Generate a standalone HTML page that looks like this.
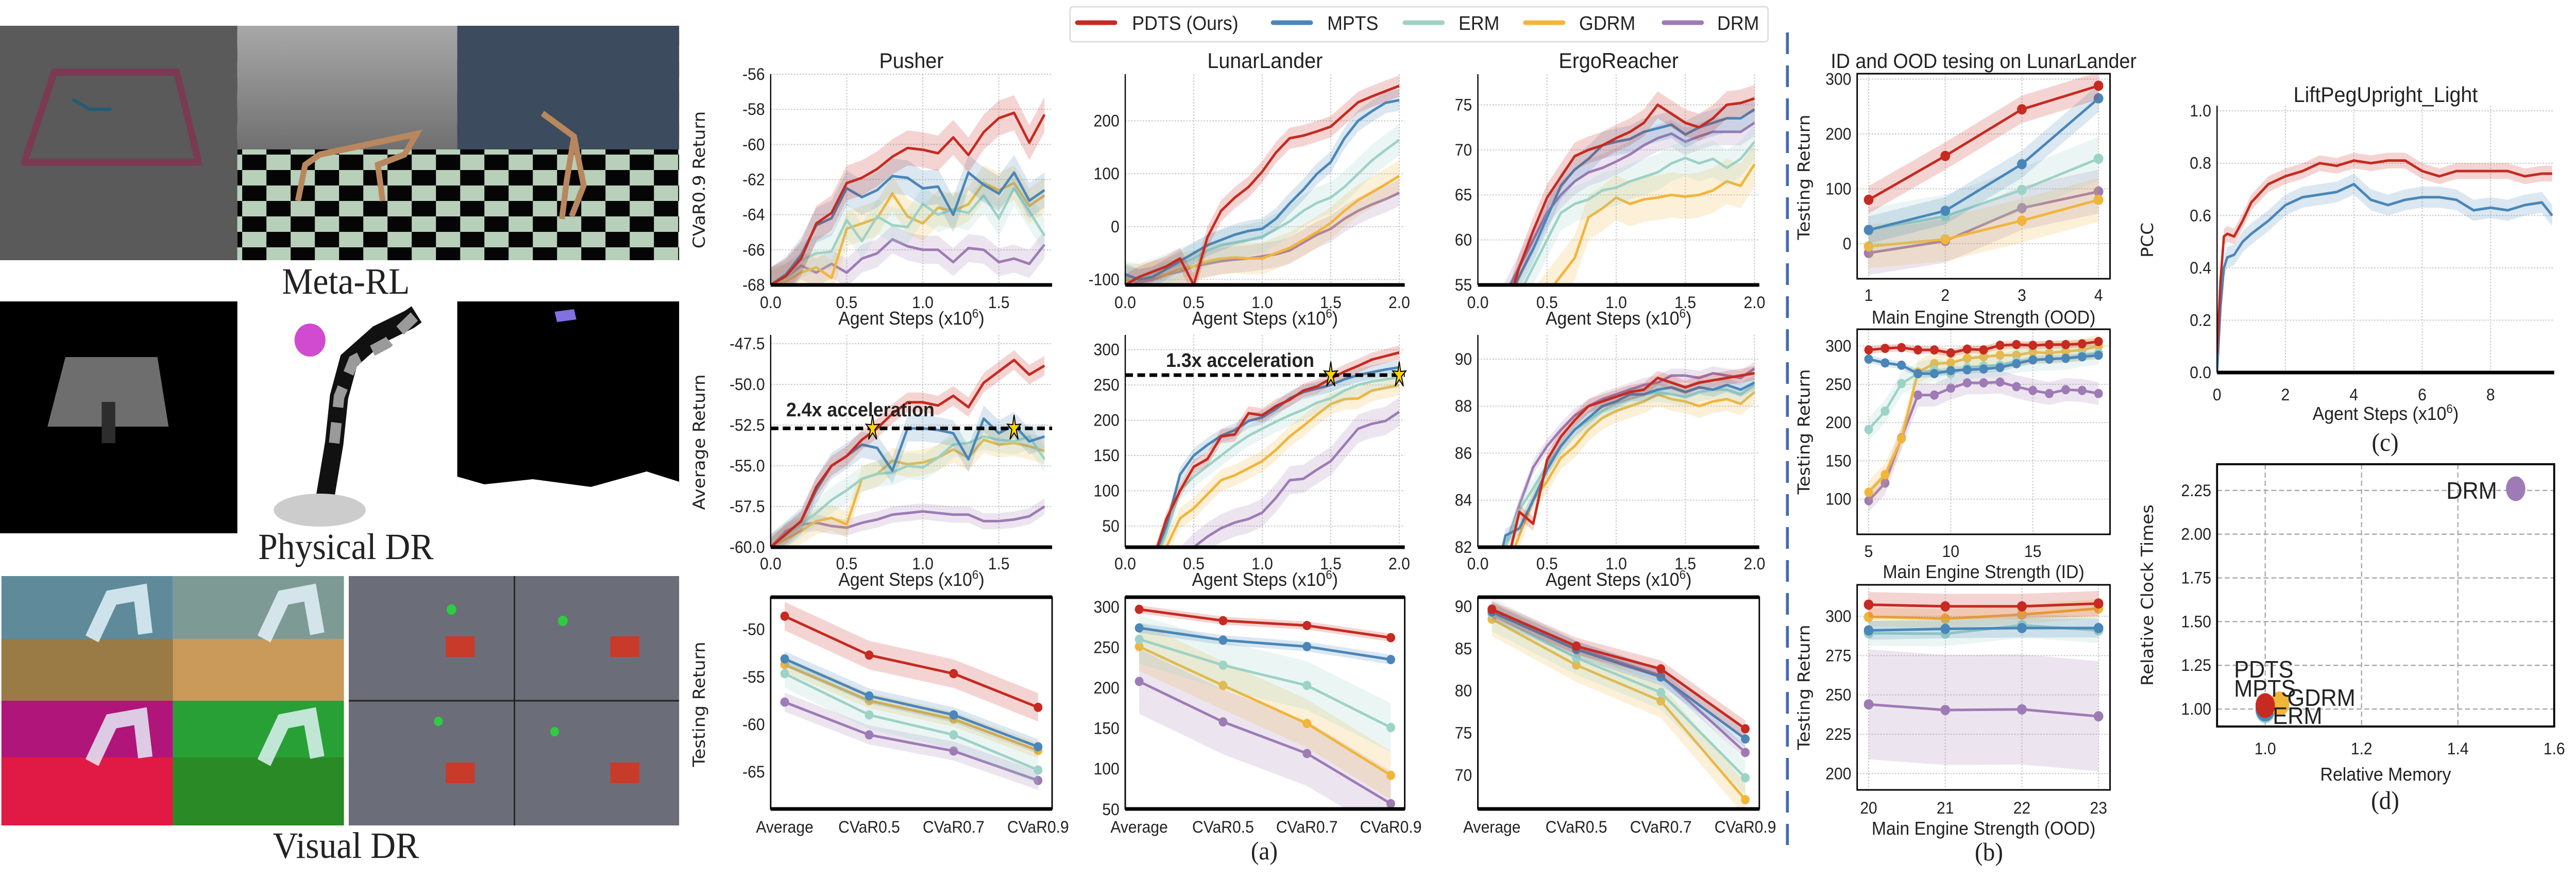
<!DOCTYPE html>
<html><head><meta charset="utf-8">
<meta name="viewport" content="width=5318">
<style>
html,body{margin:0;padding:0;background:#fff;width:100%;height:100%;overflow:hidden;}
svg{display:block;overflow:hidden;position:absolute;left:0;top:0;width:100vw;height:100vh;}
text{font-family:"Liberation Sans","DejaVu Sans",sans-serif;fill:#222;}
.tick{font-size:32px;}
.ttl{font-size:42px;}
.ylab{font-family:"DejaVu Sans","Liberation Sans",sans-serif;font-size:34px;}
.cap{font-family:"Liberation Serif",serif;font-size:50px;}
.big{font-family:"Liberation Serif",serif;font-size:72px;}
</style></head>
<body>
<svg id="fig" viewBox="0 0 5318 1737" preserveAspectRatio="none" xmlns="http://www.w3.org/2000/svg">
<defs>
<pattern id="chk" width="100" height="60" patternUnits="userSpaceOnUse">
<rect width="100" height="60" fill="#b8cfb9"/><rect width="50" height="30" fill="#050505"/><rect x="50" y="30" width="50" height="30" fill="#050505"/>
</pattern>
<linearGradient id="sky" x1="0" y1="0" x2="0" y2="1"><stop offset="0" stop-color="#a8a8a8"/><stop offset="1" stop-color="#707070"/></linearGradient>
</defs>
<g>
<rect x="0" y="50" width="490" height="455" fill="#5a5a5a"/>
<path d="M112 140 L365 140 L410 315 L50 315 Z" fill="none" stroke="#7a3a52" stroke-width="14" stroke-linejoin="round"/>
<path d="M150 193 L185 212 L230 212" fill="none" stroke="#1f5d78" stroke-width="6"/>
<rect x="490" y="50" width="454" height="455" fill="url(#chk)"/>
<rect x="490" y="50" width="454" height="240" fill="url(#sky)"/>
<path d="M615 390 L630 320 L660 300 L760 280 L860 260 L835 300 L780 320 L790 390" fill="none" stroke="#b8875e" stroke-width="12"/>
<rect x="944" y="50" width="458" height="455" fill="url(#chk)"/>
<rect x="944" y="50" width="458" height="240" fill="#3d4b5e"/>
<path d="M1120 220 L1185 265 L1205 360 L1180 420 M1185 265 L1170 350 L1160 425" fill="none" stroke="#b8875e" stroke-width="12"/>
<text class="big" x="714" y="570" text-anchor="middle">Meta-RL</text>
<rect x="0" y="585" width="490" height="450" fill="#000"/>
<path d="M135 693 L325 693 L348 828 L98 828 Z" fill="#6e6e6e"/>
<rect x="210" y="780" width="28" height="80" fill="#2d2d2d"/>
<rect x="502" y="590" width="405" height="440" fill="#fff"/>
<circle cx="640" cy="660" r="32" fill="#d14bd0"/>
<path d="M665 1000 L690 860 L700 770 L720 700 L780 650 L845 620 L860 610" fill="none" stroke="#111" stroke-width="38"/>
<path d="M690 860 L700 770 L730 700 L800 665 L860 610" fill="none" stroke="#9a9a9a" stroke-width="22" stroke-dasharray="40,30"/>
<ellipse cx="660" cy="990" rx="95" ry="32" fill="#ccc"/>
<rect x="944" y="585" width="458" height="360" fill="#000"/>
<path d="M944 925 L1000 940 L1100 930 L1220 945 L1335 915 L1402 935 L1402 950 L944 950 Z" fill="#fff"/>
<path d="M1145 605 L1185 600 L1190 620 L1150 625 Z" fill="#8070e0"/>
<text class="big" x="714" y="1085" text-anchor="middle">Physical DR</text>
<g>
<rect x="3" y="1118" width="354" height="242" fill="#5f8a9a"/><rect x="3" y="1240" width="354" height="120" fill="#9a7a45"/>
<rect x="357" y="1118" width="353" height="242" fill="#7d9a95"/><rect x="357" y="1240" width="353" height="120" fill="#c99a5a"/>
<rect x="3" y="1360" width="354" height="242" fill="#b0157a"/><rect x="3" y="1470" width="354" height="132" fill="#e01a45"/>
<rect x="357" y="1360" width="353" height="242" fill="#28a035"/><rect x="357" y="1470" width="353" height="132" fill="#2a8a25"/>
<path d="M190 1240 L230 1160 L290 1150 L300 1230 M545 1240 L585 1160 L640 1150 L655 1230 M190 1480 L230 1400 L290 1390 L300 1470 M545 1480 L585 1400 L640 1390 L655 1470" fill="none" stroke="#e8f8ff" stroke-width="30" opacity="0.8"/>
</g>
<g>
<rect x="720" y="1118" width="682" height="484" fill="#6b6e78"/>
<path d="M1062 1118 V1602 M720 1360 H1402" stroke="#222" stroke-width="3"/>
<rect x="920" y="1235" width="60" height="40" fill="#c83a2a"/><rect x="1260" y="1235" width="60" height="40" fill="#c83a2a"/>
<rect x="920" y="1480" width="60" height="40" fill="#c83a2a"/><rect x="1260" y="1480" width="60" height="40" fill="#c83a2a"/>
<circle cx="932" cy="1183" r="10" fill="#2ecc40"/><circle cx="1162" cy="1205" r="10" fill="#2ecc40"/><circle cx="905" cy="1400" r="9" fill="#2ecc40"/><circle cx="1145" cy="1420" r="9" fill="#2ecc40"/>
</g>
<text class="big" x="714" y="1665" text-anchor="middle">Visual DR</text>
</g>

<g>
<rect x="2209" y="13" width="1441" height="68" rx="6" fill="#fff" stroke="#ddd" stroke-width="3"/>
<g><line x1="2224" y1="44" x2="2302" y2="44" stroke="#c62a20" stroke-width="9" stroke-linecap="round"/><text x="2337" y="58" font-size="38">PDTS (Ours)</text></g>
<g><line x1="2628" y1="44" x2="2706" y2="44" stroke="#4a86b8" stroke-width="9" stroke-linecap="round"/><text x="2740" y="58" font-size="38">MPTS</text></g>
<g><line x1="2900" y1="44" x2="2978" y2="44" stroke="#9dd2c6" stroke-width="9" stroke-linecap="round"/><text x="3011" y="58" font-size="38">ERM</text></g>
<g><line x1="3149" y1="44" x2="3227" y2="44" stroke="#f1b53a" stroke-width="9" stroke-linecap="round"/><text x="3260" y="58" font-size="38">GDRM</text></g>
<g><line x1="3435" y1="44" x2="3513" y2="44" stroke="#9e7bb5" stroke-width="9" stroke-linecap="round"/><text x="3545" y="58" font-size="38">DRM</text></g>
</g>
<line x1="3690" y1="63" x2="3690" y2="1640" stroke="#4169b4" stroke-width="6" stroke-dasharray="42,22"/>
<g id="plots"></g>
</svg>
<script>
// ---------- data ----------
const methods = ['PDTS','MPTS','ERM','GDRM','DRM'];
const colors = ['#c62a20','#4a86b8','#9dd2c6','#f1b53a','#9e7bb5'];
const stepsPusher = [0,0.1,0.2,0.3,0.4,0.5,0.6,0.7,0.8,0.9,1.0,1.1,1.2,1.3,1.4,1.5,1.6,1.7,1.8];
const stepsTwo = [0,0.1,0.2,0.3,0.4,0.5,0.6,0.7,0.8,0.9,1.0,1.1,1.2,1.3,1.4,1.5,1.6,1.7,1.8,1.9,2.0];

const pusherCvarPDTS = [-68,-67.5,-66.5,-64.5,-63.9,-62.2,-61.9,-61.4,-60.7,-60.2,-60.3,-60.5,-59.6,-60.6,-59.3,-58.5,-58.2,-59.9,-58.3];
const pusherCvarMPTS = [-68,-67.4,-66.3,-64.6,-64.2,-62.5,-63.0,-62.6,-61.8,-61.9,-62.5,-62.4,-64,-61.6,-62.3,-62.8,-61.6,-63.2,-62.6];
const pusherCvarERM  = [-68,-67.6,-66.6,-66.2,-66.1,-64.3,-65.5,-64.1,-64.6,-64.7,-63.4,-64.0,-63.7,-63.9,-62.9,-64.2,-62.5,-63.8,-65.2];
const pusherCvarGDRM = [-68,-67.8,-67.3,-67.0,-67.6,-64.8,-64.5,-64.2,-62.8,-64.1,-64.5,-63.6,-63.8,-63.4,-62.2,-62.6,-62.2,-63.5,-62.9];
const pusherCvarDRM  = [-68,-67.6,-66.9,-67.3,-66.8,-67.3,-66.5,-66.2,-65.4,-65.8,-66.0,-66.0,-66.7,-65.9,-66.0,-66.7,-66.5,-66.8,-65.7];

const lunarCvarPDTS = [-110,-95,-85,-75,-60,-110,-20,30,55,75,104,140,167,172,180,189,212,235,246,256,266];
const lunarCvarMPTS = [-90,-100,-95,-80,-65,-50,-35,-25,-15,-8,-4,15,44,70,100,122,167,200,218,234,239];
const lunarCvarERM  = [-95,-100,-90,-80,-70,-60,-45,-35,-30,-25,-19,-5,10,30,45,55,75,100,125,145,164];
const lunarCvarGDRM = [-100,-100,-95,-90,-80,-75,-65,-60,-58,-60,-60,-50,-40,-25,-10,7,30,50,65,80,96];
const lunarCvarDRM  = [-100,-105,-100,-90,-85,-75,-70,-65,-62,-60,-56,-52,-45,-30,-15,-4,15,30,42,52,64];

const ergoCvarPDTS = [50,50,52,57,61,64.7,67,69.3,70,70.5,71.3,72,73,75,74,73,72.5,73.5,75,75.2,75.7];
const ergoCvarMPTS = [50,50,53,56,59,62.5,66,67.8,69,70.5,70.9,71.2,72,72.4,72.8,71.7,72.5,73,73.5,73.5,74.5];
const ergoCvarERM  = [50,50,52,54,57,60,63,64,64.5,65.5,65.8,66.5,67,67.5,68.5,69.1,68.5,69,68,69,70.9];
const ergoCvarGDRM = [50,50,50,50,52,54,56,58,62.5,63.5,64.7,64,64.5,64.7,65,64.8,65,65.5,66.5,66,68.4];
const ergoCvarDRM  = [50,50,54,57,60,63,65,66.5,67.5,68,68.7,69.5,70.5,71.3,71.8,70.9,71.5,72,72,72,73];

const pusherAvgPDTS = [-60,-59.2,-58.4,-56.3,-55,-54.4,-53.4,-52.7,-51.8,-51.1,-51.1,-51.3,-50.7,-51.4,-49.9,-49.2,-48.5,-49.4,-48.85];
const pusherAvgMPTS = [-60,-59.2,-58.4,-56.5,-55,-54.4,-53.7,-53.9,-55.3,-52.7,-52.7,-52.8,-53,-54.6,-52.1,-53,-52.5,-53.5,-53.2];
const pusherAvgERM  = [-60,-59.3,-58.6,-57.9,-57.1,-56.5,-55.8,-55.5,-55.4,-55,-55.1,-54.5,-53.7,-53.6,-53.2,-53.4,-53.5,-53.2,-54.6];
const pusherAvgGDRM = [-60,-59.5,-59,-58.4,-58.2,-58.6,-55.8,-55.5,-54.7,-54.9,-54.8,-54.5,-54,-54.5,-53.4,-53.7,-53.6,-53.8,-54.1];
const pusherAvgDRM  = [-60,-59,-58.6,-58.5,-58.7,-58.8,-58.5,-58.3,-58,-57.9,-57.8,-57.9,-58,-58,-58.4,-58.4,-58.3,-58.1,-57.5];

const lunarAvgPDTS = [-50,-40,0,60,100,134,145,177,180,210,207,220,229,242,248,259,269,277,286,291,296];
const lunarAvgMPTS = [-50,-40,0,50,123,150,165,178,186,199,204,216,231,240,245,250,258,264,268,272,275];
const lunarAvgERM  = [-50,-40,-10,40,101,120,135,150,165,178,188,198,207,215,225,231,242,250,255,258,261];
const lunarAvgGDRM = [-50,-40,-20,20,61,75,95,115,122,132,142,158,177,192,208,223,230,231,242,246,250];
const lunarAvgDRM  = [-50,-40,-20,-10,0,20,35,47,55,60,69,90,115,117,130,142,165,188,195,199,212];

const ergoAvgPDTS = [80,80,81,83.5,83,85.7,86.7,87.4,88,88.2,88.4,88.6,88.7,89.2,89,88.8,89,89.1,89.2,89.3,89.4];
const ergoAvgMPTS = [80,80,82.5,82.8,84,85.3,86.3,87,87.5,88,88.2,88.5,88.5,88.7,88.8,88.6,88.8,88.7,88.9,88.7,89];
const ergoAvgERM  = [80,80,82,83.6,84.5,85.5,86.3,87,87.4,87.8,88.1,88.3,88.5,88.6,88.5,88.4,88.6,88.7,88.7,88.5,88.9];
const ergoAvgGDRM = [80,80,81,82.5,84,84.8,85.8,86.3,87,87.5,87.8,88,88.2,88.5,88.3,88.2,88,88.2,88.3,88.1,88.6];
const ergoAvgDRM  = [80,80,82,83.8,85.4,86.3,87,87.6,88,88.3,88.5,88.7,88.9,89,89.3,89.3,89.2,89.4,89.3,89.2,89.6];

const riskCategories = ['Average','CVaR0.5','CVaR0.7','CVaR0.9'];
const pusherTestPDTS = [-48.6,-52.7,-54.65,-58.2];
const pusherTestMPTS = [-53.1,-57,-59,-62.35];
const pusherTestERM  = [-54.65,-59,-61.1,-64.8];
const pusherTestGDRM = [-53.7,-57.5,-59.45,-62.75];
const pusherTestDRM  = [-57.65,-61.1,-62.8,-65.9];
const lunarTestPDTS = [297,283,277,262];
const lunarTestMPTS = [274,259,251,235];
const lunarTestERM  = [260,228,203,151];
const lunarTestGDRM = [251,203,156,92];
const lunarTestDRM  = [208,158,119,57];
const ergoTestPDTS = [89.65,85.3,82.6,75.5];
const ergoTestMPTS = [89.35,84.9,81.65,74.3];
const ergoTestERM  = [89.1,83.9,79.8,69.7];
const ergoTestGDRM = [88.5,83.05,78.8,67.1];
const ergoTestDRM  = [89.7,85.1,81.8,72.7];

const oodSmallX = [1,2,3,4];
const oodSmallPDTS = [80,160,245,288];
const oodSmallMPTS = [25,60,145,265];
const oodSmallERM  = [25,50,98,155];
const oodSmallGDRM = [-5,8,42,80];
const oodSmallDRM  = [-17,5,65,95];

const idX = [5,6,7,8,9,10,11,12,13,14,15,16,17,18,19];
const idPDTS = [295,297,298,295,295,291,296,295,301,302,301,302,302,303,306];
const idMPTS = [283,278,275,264,264,268,269,270,272,277,282,283,284,286,288];
const idERM  = [191,215,251,264,269,264,272,274,275,280,282,283,284,288,291];
const idGDRM = [109,132,179,266,277,278,284,286,288,288,292,291,293,295,300];
const idDRM  = [98,121,180,236,236,245,252,252,253,247,242,238,243,242,238];

const oodLargeX = [20,21,22,23];
const oodLargePDTS = [307.4,306.3,306.3,308.1];
const oodLargeMPTS = [291,292,292.5,292.5];
const oodLargeERM  = [289.2,288.9,294.3,291];
const oodLargeGDRM = [299.6,298.4,301.1,305];
const oodLargeDRM  = [244,240.4,240.8,236.4];

const liftSteps = [0,0.1,0.2,0.3,0.5,0.75,1,1.5,2,2.5,3,3.5,4,4.5,5,5.5,6,6.5,7,7.5,8,8.5,9,9.5,9.8];
const liftPDTS = [0.07,0.35,0.52,0.53,0.52,0.58,0.65,0.72,0.75,0.77,0.8,0.79,0.81,0.80,0.81,0.81,0.77,0.75,0.77,0.77,0.77,0.77,0.75,0.76,0.76];
const liftMPTS = [0,0.25,0.4,0.44,0.45,0.5,0.53,0.58,0.64,0.67,0.68,0.69,0.72,0.66,0.64,0.66,0.67,0.67,0.66,0.62,0.63,0.62,0.64,0.65,0.6];

const costMemory = [1.0,1.0,1.0,1.03,1.52];
const costClock = [1.02,1.0,0.99,1.03,2.26];

// ---------- helpers ----------
const NS = 'http://www.w3.org/2000/svg';
const root = document.getElementById('plots');
function mk(tag, attrs, parent){ const e=document.createElementNS(NS,tag); for(const k in attrs) e.setAttribute(k,attrs[k]); (parent||root).appendChild(e); return e; }
let clipId=0;
function axes(c){
  const g = mk('g',{});
  
  
  const sx = v => c.x0 + (v-c.xmin)/(c.xmax-c.xmin)*(c.x1-c.x0);
  const sy = v => c.y1 - (v-c.ymin)/(c.ymax-c.ymin)*(c.y1-c.y0);
  const grid = c.gridStyle || {stroke:'#c8c8c8','stroke-width':2,'stroke-dasharray':'3,3'};
  (c.xticks||[]).forEach((t,i)=>{
    const gl = mk('line',Object.assign({x1:sx(t),x2:sx(t),y1:c.y0,y2:c.y1},grid),g);
    
    
    const tx = mk('text',{x:sx(t),y:c.xtickY,'text-anchor':'middle','class':'tick'},g);
    tx.textContent = c.xlabels ? c.xlabels[i] : String(t);
    
    
  });
  (c.yticks||[]).forEach((t,i)=>{
    const gl = mk('line',Object.assign({x1:c.x0,x2:c.x1,y1:sy(t),y2:sy(t)},grid),g);
    
    
    const tx = mk('text',{x:c.x0-12,y:sy(t)+11,'text-anchor':'end','class':'tick'},g);
    tx.textContent = c.ylabels ? c.ylabels[i] : String(t);
    
    
  });
  clipId++;
  const cp = mk('clipPath',{id:'cp'+clipId},g);
  mk('rect',{x:c.x0,y:c.y0,width:c.x1-c.x0,height:c.y1-c.y0},cp);
  const plot = mk('g',{'clip-path':'url(#cp'+clipId+')'},g);
  if(c.box){
    const fr = mk('rect',{x:c.x0,y:c.y0,width:c.x1-c.x0,height:c.y1-c.y0,fill:'none',stroke:'#000','stroke-width':c.boxW||3},g);
    
    
  }
  if(c.thickTB){
    mk('line',{x1:c.x0,x2:c.x1,y1:c.y0,y2:c.y0,stroke:'#000','stroke-width':7},g);
  }
  if(!c.box || c.thickTB){
    const ls = mk('line',{x1:c.x0,x2:c.x0,y1:c.y0,y2:c.y1,stroke:'#000','stroke-width':2.5},g);
    
    
    const bs = mk('line',{x1:c.x0,x2:c.x1,y1:c.y1,y2:c.y1,stroke:'#000','stroke-width':7},g);
    
    
  }
  if(c.title){
    const t = mk('text',{x:(c.x0+c.x1)/2,y:c.titleY,'text-anchor':'middle','class':'ttl'},g);
    t.textContent = c.title;
    
    
  }
  if(c.xlabel){
    const t = mk('text',{x:(c.x0+c.x1)/2,y:c.xlabelY,'text-anchor':'middle','font-size':36},g);
    t.innerHTML = c.xlabel;
    
    
  }
  if(c.ylabel){
    const t = mk('text',{x:c.ylabelX,y:c.ylabelYc,'text-anchor':'middle','class':'ylab',transform:'rotate(-90 '+c.ylabelX+' '+c.ylabelYc+')'},g);
    t.textContent = c.ylabel;
    
    
  }
  return {sx,sy,plot,g};
}
function series(ax, xs, ys, color, band, name, markers){
  let up='', dn='', ln='';
  xs.forEach((x,i)=>{ const px=ax.sx(x); up += (i?'L':'M')+px.toFixed(1)+' '+ax.sy(ys[i]+band).toFixed(1)+' '; ln += (i?'L':'M')+px.toFixed(1)+' '+ax.sy(ys[i]).toFixed(1)+' '; });
  for(let i=xs.length-1;i>=0;i--){ dn += 'L'+ax.sx(xs[i]).toFixed(1)+' '+ax.sy(ys[i]-band).toFixed(1)+' '; }
  const b = mk('path',{d:up+dn+'Z',fill:color,opacity:0.2,stroke:'none'},ax.plot);
  
  
  const l = mk('path',{d:ln,fill:'none',stroke:color,'stroke-width':5,'stroke-linejoin':'round'},ax.plot);
  
  
  if(markers){
    xs.forEach((x,i)=>{
      const m = mk('circle',{cx:ax.sx(x),cy:ax.sy(ys[i]),r:markers,fill:color},ax.plot);
      
      
    });
  }
}
function drawAll(ax, xs, data, bands, prefix, markers){
  for(let k=4;k>=0;k--){ series(ax, xs, data[k], colors[k], bands[k], prefix+'-'+methods[k].toLowerCase(), markers); }
}
function star(parent, cx, cy){
  let d='';
  for(let i=0;i<10;i++){ const r = i%2 ? 8 : 24; const ang = -Math.PI/2 + i*Math.PI/5; d += (i?'L':'M')+(cx+r*Math.cos(ang)*0.6).toFixed(1)+' '+(cy+r*Math.sin(ang)*1.1).toFixed(1)+' '; }
  const s = mk('path',{d:d+'Z',fill:'#ffd500',stroke:'#000','stroke-width':2},parent);
  
  
}
const stepLbl = 'Agent Steps (x10<tspan baseline-shift="super" font-size="24">6</tspan>)';

// Row 1
let a = axes({name:'pusher-cvar-chart',x0:1591,x1:2172,y0:144,y1:553,xmin:0,xmax:1.85,ymin:-68,ymax:-56,xticks:[0,0.5,1,1.5],xlabels:['0.0','0.5','1.0','1.5'],yticks:[-68,-66,-64,-62,-60,-58,-56],xtickY:598,title:'Pusher',titleY:132,xlabel:stepLbl,xlabelY:630,ylabel:'CVaR0.9 Return',ylabelX:1455,ylabelYc:349});
drawAll(a, stepsPusher, [pusherCvarPDTS,pusherCvarMPTS,pusherCvarERM,pusherCvarGDRM,pusherCvarDRM],[1,1,1,1,0.8],'pusher-cvar');
a = axes({name:'lunar-cvar-chart',x0:2323,x1:2900,y0:144,y1:553,xmin:0,xmax:2.04,ymin:-110,ymax:288,xticks:[0,0.5,1,1.5,2],xlabels:['0.0','0.5','1.0','1.5','2.0'],yticks:[-100,0,100,200],xtickY:598,title:'LunarLander',titleY:132,xlabel:stepLbl,xlabelY:630});
drawAll(a, stepsTwo, [lunarCvarPDTS,lunarCvarMPTS,lunarCvarERM,lunarCvarGDRM,lunarCvarDRM],[20,20,30,30,25],'lunar-cvar');
a = axes({name:'ergo-cvar-chart',x0:3051,x1:3632,y0:144,y1:553,xmin:0,xmax:2.035,ymin:55,ymax:78.4,xticks:[0,0.5,1,1.5,2],xlabels:['0.0','0.5','1.0','1.5','2.0'],yticks:[55,60,65,70,75],xtickY:598,title:'ErgoReacher',titleY:132,xlabel:stepLbl,xlabelY:630});
drawAll(a, stepsTwo, [ergoCvarPDTS,ergoCvarMPTS,ergoCvarERM,ergoCvarGDRM,ergoCvarDRM],[1.5,1.5,2,2.5,1.5],'ergo-cvar');

// Row 2
a = axes({name:'pusher-average-chart',x0:1591,x1:2172,y0:650,y1:1062,xmin:0,xmax:1.85,ymin:-60,ymax:-46.96,xticks:[0,0.5,1,1.5],xlabels:['0.0','0.5','1.0','1.5'],yticks:[-60,-57.5,-55,-52.5,-50,-47.5],ylabels:['-60.0','-57.5','-55.0','-52.5','-50.0','-47.5'],xtickY:1105,xlabel:stepLbl,xlabelY:1137,ylabel:'Average Return',ylabelX:1455,ylabelYc:858});
drawAll(a, stepsPusher, [pusherAvgPDTS,pusherAvgMPTS,pusherAvgERM,pusherAvgGDRM,pusherAvgDRM],[0.6,0.8,0.8,0.8,0.5],'pusher-average');
const pTarget = a.sy(-52.7);
mk('line',{x1:1591,x2:2172,y1:pTarget,y2:pTarget,stroke:'#000','stroke-width':7,'stroke-dasharray':'16,9'},a.g);
const annot1 = mk('text',{x:1623,y:808,'font-size':38,'font-weight':'bold'},a.g);
annot1.textContent='2.4x acceleration';


[0.67,1.6].forEach(x=>star(a.g, a.sx(x), pTarget));

a = axes({name:'lunar-average-chart',x0:2323,x1:2900,y0:650,y1:1062,xmin:0,xmax:2.04,ymin:20,ymax:321,xticks:[0,0.5,1,1.5,2],xlabels:['0.0','0.5','1.0','1.5','2.0'],yticks:[50,100,150,200,250,300],xtickY:1105,xlabel:stepLbl,xlabelY:1137});
drawAll(a, stepsTwo, [lunarAvgPDTS,lunarAvgMPTS,lunarAvgERM,lunarAvgGDRM,lunarAvgDRM],[10,10,15,15,20],'lunar-average');
const lTarget = a.sy(264);
mk('line',{x1:2323,x2:2900,y1:lTarget,y2:lTarget,stroke:'#000','stroke-width':7,'stroke-dasharray':'16,9'},a.g);
const annot2 = mk('text',{x:2407,y:712,'font-size':38,'font-weight':'bold'},a.g);
annot2.textContent='1.3x acceleration';


[1.5,2.0].forEach(x=>star(a.g, a.sx(x), lTarget));

a = axes({name:'ergo-average-chart',x0:3051,x1:3632,y0:650,y1:1062,xmin:0,xmax:2.035,ymin:82,ymax:91.03,xticks:[0,0.5,1,1.5,2],xlabels:['0.0','0.5','1.0','1.5','2.0'],yticks:[82,84,86,88,90],xtickY:1105,xlabel:stepLbl,xlabelY:1137});
drawAll(a, stepsTwo, [ergoAvgPDTS,ergoAvgMPTS,ergoAvgERM,ergoAvgGDRM,ergoAvgDRM],[0.3,0.3,0.4,0.5,0.3],'ergo-average');

// Row 3
const catIdx = [0,1,2,3];
a = axes({name:'pusher-testing-chart',x0:1591,x1:2172,y0:1159,y1:1570,xmin:-0.166,xmax:3.166,ymin:-68.9,ymax:-46.6,xticks:catIdx,xlabels:riskCategories,yticks:[-65,-60,-55,-50],xtickY:1616,box:true,thickTB:true,ylabel:'Testing Return',ylabelX:1455,ylabelYc:1367,gridStyle:{stroke:'none'}});
drawAll(a, catIdx, [pusherTestPDTS,pusherTestMPTS,pusherTestERM,pusherTestGDRM,pusherTestDRM],[1.5,0.8,1.5,0.8,1],'pusher-testing',9);
a = axes({name:'lunar-testing-chart',x0:2323,x1:2900,y0:1159,y1:1570,xmin:-0.166,xmax:3.166,ymin:50.5,ymax:312,xticks:catIdx,xlabels:riskCategories,yticks:[50,100,150,200,250,300],xtickY:1616,box:true,thickTB:true,gridStyle:{stroke:'none'}});
drawAll(a, catIdx, [lunarTestPDTS,lunarTestMPTS,lunarTestERM,lunarTestGDRM,lunarTestDRM],[5,6,30,30,40],'lunar-testing',9);
a = axes({name:'ergo-testing-chart',x0:3051,x1:3632,y0:1159,y1:1570,xmin:-0.166,xmax:3.166,ymin:66,ymax:91.1,xticks:catIdx,xlabels:riskCategories,yticks:[70,75,80,85,90],xtickY:1616,box:true,thickTB:true,gridStyle:{stroke:'none'}});
drawAll(a, catIdx, [ergoTestPDTS,ergoTestMPTS,ergoTestERM,ergoTestGDRM,ergoTestDRM],[1,1,2,2,0.8],'ergo-testing',9);

// (b)
const bTitle = mk('text',{x:4095,y:132,'text-anchor':'middle','font-size':40});
bTitle.textContent='ID and OOD tesing on LunarLander';


a = axes({name:'ood-small-chart',x0:3834,x1:4356,y0:143,y1:541,xmin:0.85,xmax:4.15,ymin:-64,ymax:310,xticks:oodSmallX,yticks:[0,100,200,300],xtickY:584,box:true,xlabel:'Main Engine Strength (OOD)',xlabelY:628,ylabel:'Testing Return',ylabelX:3736,ylabelYc:344});
drawAll(a, oodSmallX, [oodSmallPDTS,oodSmallMPTS,oodSmallERM,oodSmallGDRM,oodSmallDRM],[25,25,40,40,40],'ood-small',10);
a = axes({name:'id-chart',x0:3834,x1:4356,y0:639,y1:1037,xmin:4.3,xmax:19.7,ymin:54,ymax:322,xticks:[5,10,15],yticks:[100,150,200,250,300],xtickY:1081,box:true,xlabel:'Main Engine Strength (ID)',xlabelY:1122,ylabel:'Testing Return',ylabelX:3736,ylabelYc:838});
drawAll(a, idX, [idPDTS,idMPTS,idERM,idGDRM,idDRM],[5,5,15,15,15],'id',9);
a = axes({name:'ood-large-chart',x0:3834,x1:4356,y0:1135,y1:1533,xmin:19.85,xmax:23.15,ymin:189.6,ymax:320,xticks:oodLargeX,yticks:[200,225,250,275,300],xtickY:1579,box:true,xlabel:'Main Engine Strength (OOD)',xlabelY:1620,ylabel:'Testing Return',ylabelX:3736,ylabelYc:1334});
drawAll(a, oodLargeX, [oodLargePDTS,oodLargeMPTS,oodLargeERM,oodLargeGDRM,oodLargeDRM],[8,6,8,6,35],'ood-large',10);

// (c)
a = axes({name:'liftpeg-chart',x0:4577,x1:5273,y0:205,y1:723,xmin:0,xmax:9.86,ymin:0,ymax:1.02,xticks:[0,2,4,6,8],yticks:[0,0.2,0.4,0.6,0.8,1.0],ylabels:['0.0','0.2','0.4','0.6','0.8','1.0'],xtickY:777,title:'LiftPegUpright_Light',titleY:198,xlabel:stepLbl,xlabelY:815,ylabel:'PCC',ylabelX:4445,ylabelYc:466});
series(a, liftSteps, liftMPTS, colors[1], 0.04, 'liftpeg-mpts');
series(a, liftSteps, liftPDTS, colors[0], 0.03, 'liftpeg-pdts');

// (d)
a = axes({name:'cost-scatter-chart',x0:4577,x1:5273,y0:901,y1:1410,xmin:0.9,xmax:1.6,ymin:0.9,ymax:2.4,xticks:[1.0,1.2,1.4,1.6],xlabels:['1.0','1.2','1.4','1.6'],yticks:[1.0,1.25,1.5,1.75,2.0,2.25],ylabels:['1.00','1.25','1.50','1.75','2.00','2.25'],xtickY:1464,box:true,boxW:4,xlabel:'Relative Memory',xlabelY:1515,ylabel:'Relative Clock Times',ylabelX:4445,ylabelYc:1155,gridStyle:{stroke:'#aaa','stroke-width':2.5,'stroke-dasharray':'10,6'}});
const scatterOrder = [2,1,3,0,4];
scatterOrder.forEach(k=>{
  const d = mk('ellipse',{cx:a.sx(costMemory[k]),cy:a.sy(costClock[k]),rx:20,ry:24,fill:colors[k]},a.plot);
  
  
});
const lblPos = [[4612,1315,'start'],[4612,1352,'start'],[4692,1405,'start'],[4722,1370,'start'],[5155,968,'end']];
[0,1,2,3,4].forEach(k=>{
  const t = mk('text',{x:lblPos[k][0],y:lblPos[k][1],'text-anchor':lblPos[k][2],'font-size':46},a.g);
  t.textContent = methods[k];
  
  
});

// panel captions
[['(a)',2610,1668],['(b)',4106,1670],['(c)',4924,875],['(d)',4924,1570]].forEach(c=>{
  const t = mk('text',{x:c[1],y:c[2],'text-anchor':'middle','class':'cap'});
  t.textContent = c[0];
  
  
});
</script>
</body></html>
